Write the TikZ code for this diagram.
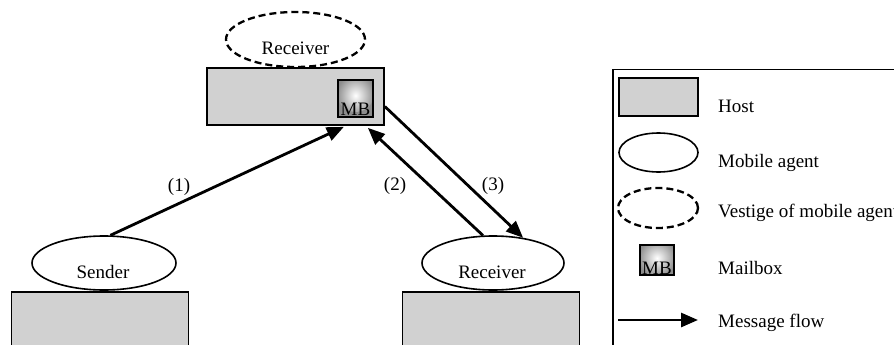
\documentclass[tikz,border=0pt]{standalone}
\usepackage{fontspec}
\setmainfont{Liberation Serif}
\usetikzlibrary{shapes.geometric,arrows.meta,calc}
\definecolor{hostgray}{gray}{0.82}
\definecolor{mbgray}{gray}{0.55}

\begin{document}
\begin{tikzpicture}[x=1pt,y=-1pt,
  font=\fontsize{19}{22}\selectfont,
  host/.style={draw, line width=1.7pt, fill=hostgray, inner sep=0pt,
               minimum width=177pt, minimum height=57pt},
  agent/.style={ellipse, draw, line width=1.6pt, inner sep=0pt,
                minimum width=142pt, minimum height=54pt},
  vestige/.style={agent, line width=2.3pt, dash pattern=on 7pt off 4pt},
  mbox/.style={draw, line width=1.5pt, fill=mbgray, inner sep=0pt,
               path picture={\shade[inner color=white, outer color=mbgray]
                 ([yshift=-13pt]path picture bounding box.north) circle (19pt);}},
  flow/.style={line width=2.8pt, -{Triangle[length=17pt,width=14pt]}},
  txt/.style={inner sep=0pt},
  lbl/.style={anchor=base west, inner sep=0pt}
]
\useasboundingbox (0,0) rectangle (894,345);

% ---- hosts ----
\node[host] (tophost) at (295.5,96.5) {};
\node[host] (sendhost) at (100,320.5) {};
\node[host] (recvhost) at (491,320.5) {};

% ---- mailbox on the top host ----
\node[mbox, minimum width=35pt, minimum height=37pt] (mb) at (355.5,98.5) {};
\node[txt, anchor=base] (mbt) at ([yshift=2pt]mb.south) {MB};

% ---- agents ----
\node[vestige, minimum width=139pt, minimum height=55pt] (vest) at (295.5,39.5) {};
\node[txt, anchor=base] (vestt) at (295.5,55) {Receiver};
\node[agent, minimum width=144pt] (sender) at (104,263) {};
\node[txt, anchor=base] (sendert) at (103,278) {Sender};
\node[agent] (recv) at (493,263) {};
\node[txt, anchor=base] (recvt) at (492,278) {Receiver};

% ---- message flows ----
\coordinate (t1) at ($(tophost.south east)+(-41,1)$);
\coordinate (t2) at ($(tophost.south east)+(-17,2)$);
\coordinate (s3) at ($(tophost.east)+(0,10)$);
\draw[flow] (sender.77) -- (t1);
\draw[flow] (recv.110) -- (t2);
\draw[flow] (s3) -- (recv.40);
\node[txt] (l1) at (179,187) {(1)};
\node[txt] (l2) at (395,186) {(2)};
\node[txt] (l3) at (493,186) {(3)};

% ---- legend ----
\node[draw, line width=1.5pt, anchor=north west, minimum width=320pt,
      minimum height=320pt] (legend) at (612,69) {};
\node[host, minimum width=79pt, minimum height=38pt] (lhost) at (658.5,97) {};
\node[lbl] (lhostt) at (718,112) {Host};
\node[agent, minimum width=79pt, minimum height=39pt] (lagent) at (658.5,152.5) {};
\node[lbl] (lagentt) at (718,167) {Mobile agent};
\node[vestige, minimum width=80pt, minimum height=40pt] (lvest) at (658,208) {};
\node[lbl] (lvestt) at (718,217) {Vestige of mobile agent};
\node[mbox, minimum width=34pt, minimum height=30pt] (lmb) at (657,260) {};
\node[txt, anchor=base] (lmbt) at ([yshift=1.5pt]lmb.south) {MB};
\node[lbl] (lmbboxt) at (718,274) {Mailbox};
\coordinate (fa) at (618,320);
\coordinate (fb) at (698,320);
\draw[flow] (fa) -- (fb);
\node[lbl] (lflowt) at (718,327) {Message flow};
\end{tikzpicture}
\end{document}
